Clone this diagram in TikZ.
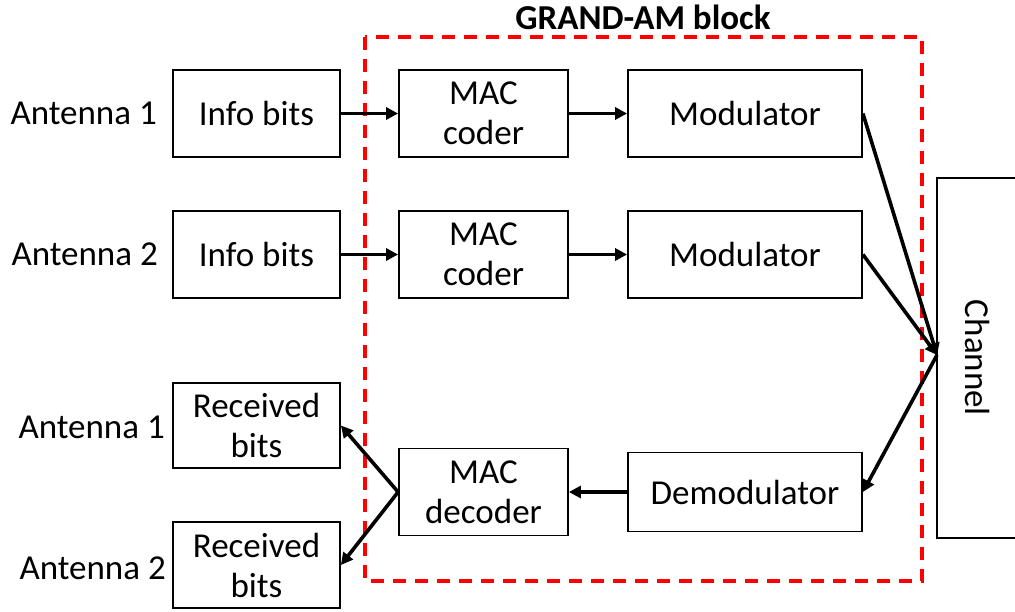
\documentclass[tikz,border=0pt]{standalone}
\usepackage{fontspec}
\setmainfont{Carlito}
\usetikzlibrary{arrows.meta}
\begin{document}
\begin{tikzpicture}[x=1pt,y=-1pt,
  blk/.style={draw, line width=1.8pt, inner sep=0pt, align=center,
    font=\fontsize{35}{40}\selectfont},
  lbl/.style={font=\fontsize{35}{40}\selectfont, inner sep=0pt},
  conn/.style={line width=3.6pt, -{Triangle[length=12pt,width=12pt]}},
  grp/.style={draw=red, line width=3.6pt, dash pattern=on 13pt off 9pt}]
\useasboundingbox (0,0) rectangle (1015,611);

% transmit chains
\node[blk, minimum width=167pt, minimum height=87pt] (info1) at (256.5,113.5) {Info bits};
\node[blk, minimum width=169pt, minimum height=87pt] (mac1) at (483.5,113.5) {MAC\\coder};
\node[blk, minimum width=234pt, minimum height=87pt] (mod1) at (745,113.5) {Modulator};
\node[blk, minimum width=167pt, minimum height=87pt] (info2) at (256.5,254.5) {Info bits};
\node[blk, minimum width=169pt, minimum height=87pt] (mac2) at (483.5,254.5) {MAC\\coder};
\node[blk, minimum width=234pt, minimum height=87pt] (mod2) at (745,254.5) {Modulator};

% receive chain
\node[blk, minimum width=167pt, minimum height=85pt] (rx1) at (256.5,425.5) {Received\\bits};
\node[blk, minimum width=167pt, minimum height=86pt] (rx2) at (256.5,565) {Received\\bits};
\node[blk, minimum width=169pt, minimum height=87pt] (dec) at (483.5,492) {MAC\\decoder};
\node[blk, minimum width=234pt, minimum height=79pt] (demod) at (745,492) {Demodulator};

% channel (its right side runs past the edge)
\node[blk, minimum width=110pt, minimum height=360pt] (chan) at (992,358) {};
\node[lbl, rotate=-90] (chanlbl) at (978,358) {Channel};
\coordinate (cin) at (937,355);

% antenna labels
\node[lbl, anchor=east] (a1) at (157,113.5) {Antenna 1};
\node[lbl, anchor=east] (a2) at (158,254.5) {Antenna 2};
\node[lbl, anchor=east] (a3) at (165,427) {Antenna 1};
\node[lbl, anchor=east] (a4) at (166,568) {Antenna 2};

% GRAND-AM block
\draw[grp] (365,37) rectangle (922,581);
\node[lbl, font=\fontsize{35}{36}\selectfont\bfseries] (title) at (643,17) {GRAND-AM block};

% connectors
\draw[conn] (info1.east) -- (mac1.west);
\draw[conn] (mac1.east) -- (mod1.west);
\draw[conn] (info2.east) -- (mac2.west);
\draw[conn] (mac2.east) -- (mod2.west);
\draw[conn] (mod1.east) -- (cin);
\draw[conn] (mod2.east) -- (cin);
\draw[conn] (cin) -- (demod.east);
\draw[conn] (demod.west) -- (dec.east);
\draw[conn] (dec.west) -- (rx1.east);
\draw[conn] (dec.west) -- (rx2.east);
\end{tikzpicture}
\end{document}
